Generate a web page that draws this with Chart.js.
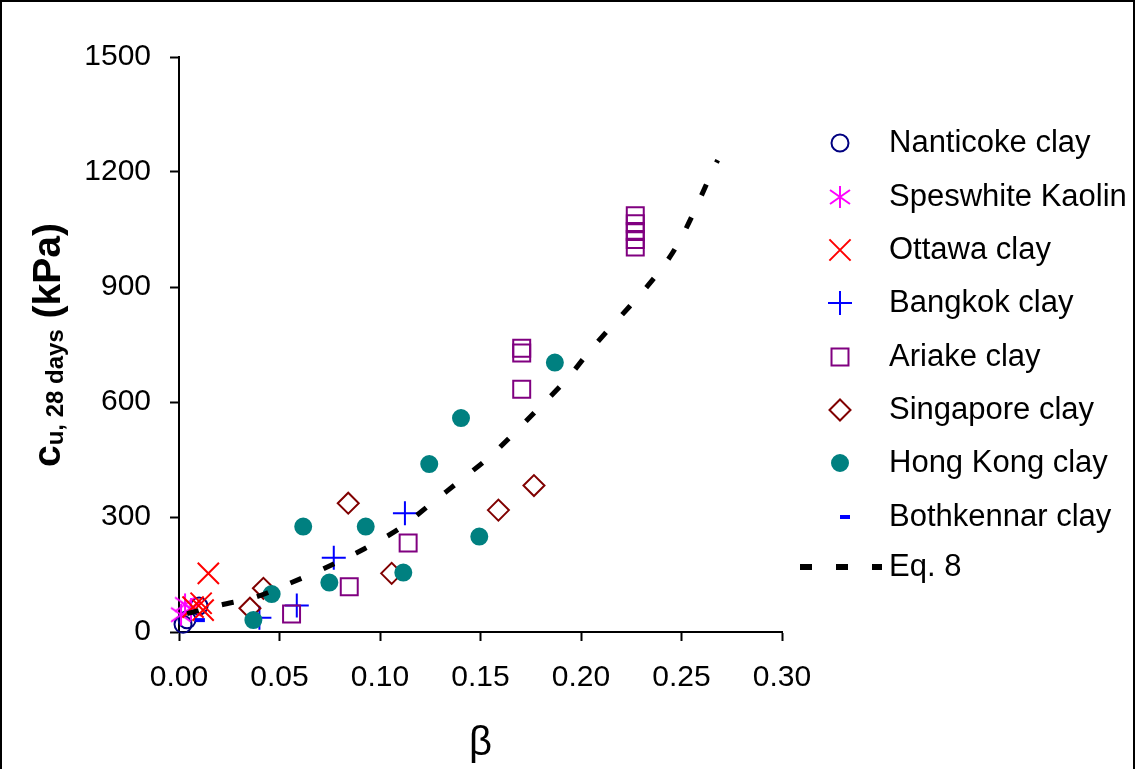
<!DOCTYPE html>
<html lang="en">
<head>
<meta charset="UTF-8">
<title>Undrained strength at 28 days vs beta</title>
<script src="https://cdn.jsdelivr.net/npm/chart.js"></script>
<style>
  body { margin: 0; background: #fff; }
  canvas { display: block; }
</style>
</head>
<body>
<canvas id="cuChart" width="1136" height="769"></canvas>
<script>
// beta values and cu (kPa) for each clay
const nanticokeBeta = [0.002, 0.004, 0.010];
const nanticokeCu = [20, 32, 68];
const speswhiteBeta = [0.001, 0.003, 0.006];
const speswhiteCu = [45, 72, 60];
const ottawaBeta = [0.0146, 0.011, 0.012, 0.007];
const ottawaCu = [153, 75, 57, 65];
const bangkokBeta = [0.040, 0.0586, 0.077, 0.1124];
const bangkokCu = [37, 69, 194, 310];
const ariakeBeta = [0.056, 0.0847, 0.114, 0.1705, 0.1705, 0.1705, 0.227, 0.227, 0.227, 0.227, 0.227];
const ariakeCu = [47, 118, 232, 633, 728, 740, 1004, 1024, 1045, 1065, 1086];
const singaporeBeta = [0.0353, 0.042, 0.0842, 0.1058, 0.1589, 0.1766];
const singaporeCu = [62, 114, 336, 153, 318, 382];
const hongKongBeta = [0.037, 0.0461, 0.0618, 0.0748, 0.0929, 0.1116, 0.1245, 0.1403, 0.1494, 0.187];
const hongKongCu = [31, 99, 275, 129, 275, 155, 438, 558, 249, 703];
const bothkennarBeta = [0.0104];
const bothkennarCu = [31];
// Eq. 8 curve
const eq8Beta = [0.004, 0.0204, 0.0386, 0.056, 0.0735, 0.0925, 0.110, 0.1257, 0.1406, 0.1556, 0.183, 0.1937, 0.204, 0.2443, 0.268];
const eq8Cu = [48, 70, 92, 129, 169, 218, 271, 336, 398, 462, 605, 664, 731, 979, 1231];

const seriesNames = ['Nanticoke clay', 'Speswhite Kaolin', 'Ottawa clay', 'Bangkok clay',
  'Ariake clay', 'Singapore clay', 'Hong Kong clay', 'Bothkennar clay', 'Eq. 8'];
const xTicks = [0, 0.05, 0.10, 0.15, 0.20, 0.25, 0.30];
const yTicks = [0, 300, 600, 900, 1200, 1500];

const FONT = "'Liberation Sans', Arial, Helvetica, sans-serif";
Chart.defaults.font.family = FONT;
Chart.defaults.color = '#000';

function pts(xs, ys) {
  return xs.map((x, i) => ({ x: x, y: ys[i] }));
}

// asterisk marker: one vertical stroke plus an X
function asterisk(color) {
  const c = document.createElement('canvas');
  c.width = 24; c.height = 24;
  const g = c.getContext('2d');
  g.strokeStyle = color;
  g.lineWidth = 2;
  g.beginPath();
  g.moveTo(12, 1); g.lineTo(12, 23);
  g.moveTo(2, 5); g.lineTo(22, 19);
  g.moveTo(2, 19); g.lineTo(22, 5);
  g.stroke();
  return c;
}

const styles = [
  { pointStyle: 'circle', radius: 8.5, color: '#000080', fill: 'rgba(0,0,0,0)' },
  { pointStyle: asterisk('#FF00FF'), radius: 11, color: '#FF00FF', fill: 'rgba(0,0,0,0)' },
  { pointStyle: 'crossRot', radius: 15, color: '#FF0000', fill: 'rgba(0,0,0,0)' },
  { pointStyle: 'cross', radius: 12, color: '#0000FF', fill: 'rgba(0,0,0,0)' },
  { pointStyle: 'rect', radius: 12, color: '#800080', fill: 'rgba(0,0,0,0)' },
  { pointStyle: 'rectRot', radius: 10.5, color: '#800000', fill: 'rgba(0,0,0,0)' },
  { pointStyle: 'circle', radius: 8, color: '#008080', fill: '#008080' },
  { pointStyle: 'line', radius: 5, color: '#0000FF', fill: '#0000FF', width: 4 }
];

const pointData = [
  pts(nanticokeBeta, nanticokeCu),
  pts(speswhiteBeta, speswhiteCu),
  pts(ottawaBeta, ottawaCu),
  pts(bangkokBeta, bangkokCu),
  pts(ariakeBeta, ariakeCu),
  pts(singaporeBeta, singaporeCu),
  pts(hongKongBeta, hongKongCu),
  pts(bothkennarBeta, bothkennarCu)
];

const datasets = pointData.map((d, i) => ({
  label: seriesNames[i],
  data: d,
  showLine: false,
  pointStyle: styles[i].pointStyle,
  pointRadius: styles[i].radius,
  pointBorderWidth: styles[i].width || 2,
  pointBorderColor: styles[i].color,
  pointBackgroundColor: styles[i].fill,
  clip: false,
  order: 20 - i
}));

datasets.push({
  label: seriesNames[8],
  data: pts(eq8Beta, eq8Cu),
  showLine: true,
  pointRadius: 0,
  borderColor: '#000',
  borderWidth: 5,
  borderDash: [12, 24],
  tension: 0.3,
  clip: false,
  order: 0
});

// frame, rotated y title with subscript, and the legend on the right
const decorations = {
  id: 'decorations',
  afterDraw(chart) {
    const ctx = chart.ctx;
    ctx.save();

    ctx.strokeStyle = '#000';
    ctx.lineWidth = 2;
    ctx.strokeRect(1, 1, 1133, 800);

    // y title: c with "u, 28 days" subscript then (kPa)
    const big = 'bold 39px ' + FONT;
    const small = 'bold 24px ' + FONT;
    ctx.font = big;
    const wC = ctx.measureText('c').width;
    const wK = ctx.measureText(' (kPa)').width;
    ctx.font = small;
    const wS = ctx.measureText('u, 28 days').width;
    const total = wC + wS + wK;
    ctx.translate(60, 345 + total / 2);
    ctx.rotate(-Math.PI / 2);
    ctx.fillStyle = '#000';
    ctx.textBaseline = 'alphabetic';
    ctx.textAlign = 'left';
    ctx.font = big;
    ctx.fillText('c', 0, 0);
    ctx.font = small;
    ctx.fillText('u, 28 days', wC, 3);
    ctx.font = big;
    ctx.fillText(' (kPa)', wC + wS, 0);
    ctx.setTransform(1, 0, 0, 1, 0, 0);

    // legend
    const rowY = [143, 197, 250, 303, 357, 410, 463, 517, 567];
    ctx.font = '31px ' + FONT;
    ctx.textBaseline = 'middle';
    for (let i = 0; i < 8; i++) {
      const s = styles[i];
      ctx.strokeStyle = s.color;
      ctx.fillStyle = s.fill;
      ctx.lineWidth = s.width || 2;
      const mx = s.pointStyle === 'line' ? 845 : 840;
      Chart.helpers.drawPoint(ctx, { pointStyle: s.pointStyle, radius: s.radius, rotation: 0, borderWidth: s.width || 2 }, mx, rowY[i]);
      ctx.fillStyle = '#000';
      ctx.fillText(seriesNames[i], 889, rowY[i]);
    }
    ctx.strokeStyle = '#000';
    ctx.lineWidth = 6;
    ctx.setLineDash([12, 24]);
    ctx.beginPath();
    ctx.moveTo(800, rowY[8]);
    ctx.lineTo(882, rowY[8]);
    ctx.stroke();
    ctx.setLineDash([]);
    ctx.fillStyle = '#000';
    ctx.fillText(seriesNames[8], 889, rowY[8]);

    ctx.restore();
  }
};

new Chart(document.getElementById('cuChart'), {
  type: 'scatter',
  data: { datasets: datasets },
  options: {
    responsive: false,
    animation: false,
    layout: { padding: { top: 57, right: 354, left: 0, bottom: 0 } },
    plugins: {
      legend: { display: false },
      tooltip: { enabled: false }
    },
    scales: {
      x: {
        type: 'linear',
        min: xTicks[0],
        max: xTicks[xTicks.length - 1],
        afterBuildTicks: s => { s.ticks = xTicks.map(v => ({ value: v })); },
        afterFit: s => { s.height = 137; },
        ticks: {
          padding: 19,
          color: '#000',
          font: { size: 30 },
          autoSkip: false,
          maxRotation: 0,
          callback: v => Number(v).toFixed(2)
        },
        grid: { drawOnChartArea: false, tickLength: 9, tickColor: '#000', tickWidth: 2 },
        border: { color: '#000', width: 2 },
        title: { display: true, text: 'β', color: '#000', font: { size: 40 }, padding: { top: 0, bottom: 1 } }
      },
      y: {
        type: 'linear',
        min: yTicks[0],
        max: yTicks[yTicks.length - 1],
        afterBuildTicks: s => { s.ticks = yTicks.map(v => ({ value: v })); },
        afterFit: s => { s.width = 179; },
        ticks: {
          padding: 19,
          color: '#000',
          font: { size: 30 },
          callback: v => String(v)
        },
        grid: { drawOnChartArea: false, tickLength: 9, tickColor: '#000', tickWidth: 2 },
        border: { color: '#000', width: 2 }
      }
    }
  },
  plugins: [decorations]
});
</script>
</body>
</html>
